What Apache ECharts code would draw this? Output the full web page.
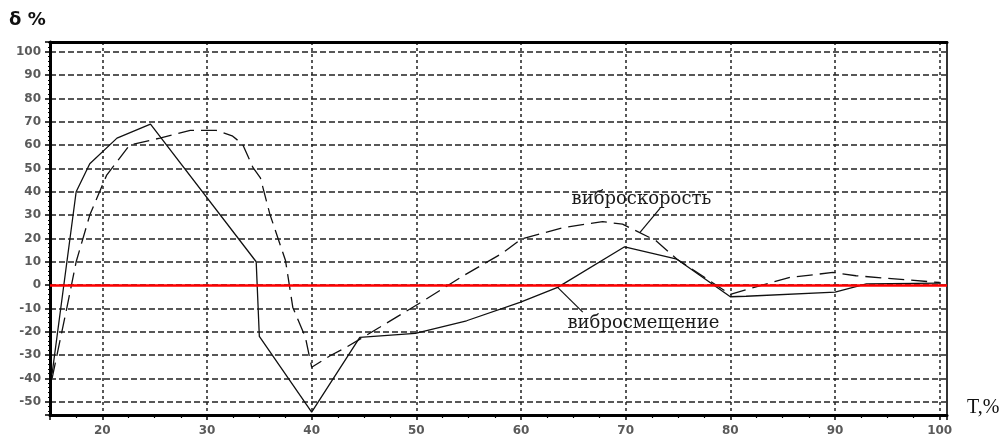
<!DOCTYPE html>
<html>
<head>
<meta charset="utf-8">
<script src="https://cdn.jsdelivr.net/npm/echarts@6/dist/echarts.min.js"></script>
<style>
  html, body { margin: 0; padding: 0; background: #fff; }
  #chart { width: 1003px; height: 441px; }
</style>
</head>
<body>
<div id="chart"></div>
<script>
// Relative deviation δ, % versus T, %
// вибросмещение (solid)
const dispX = [15.2, 17.5, 18.8, 21.4, 24.6, 34.7, 35.0, 40.0, 44.6, 49.9, 54.8, 59.9, 63.5, 69.9, 74.9, 80.0, 81.5, 90.0, 93.0, 100.0];
const dispY = [-38, 40, 52, 63, 69, 10, -22, -54.5, -22.4, -20.7, -15.3, -7.4, -1, 16.4, 11.1, -5, -4.8, -3, 0.5, 0.8];

// виброскорость (dashed)
const velX = [15.2, 16.6, 17.5, 18.8, 20.4, 22.6, 25.5, 28.4, 30.9, 32.4, 33.4, 34.4, 35.1, 36.0, 37.5, 38.2, 39.4, 40.0, 41.8, 43.3, 46.5, 50.7, 54.5, 58.3, 60.0, 64.0, 67.8, 69.7, 72.9, 74.9, 80.0, 82.8, 85.7, 89.8, 92.0, 100.0];
const velY = [-40, -10, 10, 30, 47, 60, 63, 66.3, 66.3, 64, 60.4, 50.3, 46, 30.5, 10.5, -9.6, -22.4, -35.2, -30.2, -26.7, -18.1, -6.7, 4, 13.9, 19.7, 24.6, 27.2, 26.1, 19, 11.1, -4, -0.3, 3.3, 5.4, 4, 1.1];

// Axis ranges
const xRange = [15, 100.7];
const yRange = [-55.7, 104.2];

// Curve captions and their leader lines (data coordinates)
const velCaption = { text: 'виброскорость', at: [71.5, 36.6], leader: [[73.3, 33.0], [71.35, 22.5]] };
const dispCaption = { text: 'вибросмещение', at: [71.7, -16.4], leader: [[63.5, -1.0], [65.9, -11.6]] };

const pairs = (xs, ys) => xs.map((x, i) => [x, ys[i]]);

const chart = echarts.init(document.getElementById('chart'), null, { renderer: 'canvas' });

const tickFont = { fontFamily: 'DejaVu Sans', fontWeight: 'bold', fontSize: 12, color: '#5a5a5a' };
const gridColor = '#222';

function caption(c) {
  return {
    coord: c.at,
    symbol: 'circle',
    symbolSize: 0,
    label: {
      show: true,
      position: 'inside',
      formatter: c.text,
      fontFamily: 'DejaVu Serif',
      fontSize: 18,
      color: '#1a1a1a'
    }
  };
}

function leader(c) {
  return [
    { coord: c.leader[0], lineStyle: { color: '#111', width: 1.2, type: 'solid' } },
    { coord: c.leader[1] }
  ];
}

chart.setOption({
  animation: false,
  backgroundColor: '#fff',
  grid: { left: 50, right: 56, top: 42, bottom: 26, containLabel: false },
  title: [
    { text: 'δ %', left: 4, top: 6, textStyle: { fontFamily: 'DejaVu Sans', fontWeight: 'bold', fontSize: 18, color: '#111' } },
    { text: 'T,%', left: 962, top: 393, textStyle: { fontFamily: 'Liberation Serif', fontWeight: 'normal', fontSize: 20, color: '#111' } }
  ],
  xAxis: [
    {
      type: 'value', min: xRange[0], max: xRange[1], splitNumber: 8,
      axisLine: { show: true, onZero: false, lineStyle: { color: '#000', width: 3 } },
      axisTick: { show: true, length: 5, lineStyle: { color: '#000', width: 1.5 } },
      minorTick: { show: true, splitNumber: 4, length: 3, lineStyle: { color: '#000', width: 1.2 } },
      axisLabel: Object.assign({ margin: 10, showMinLabel: false, showMaxLabel: false }, tickFont),
      splitLine: { show: true, lineStyle: { color: gridColor, width: 1.5, type: [3, 3] } }
    },
    {
      type: 'value', position: 'top', min: xRange[0], max: xRange[1],
      axisLine: { show: true, onZero: false, lineStyle: { color: '#000', width: 3 } },
      axisTick: { show: false }, axisLabel: { show: false }, splitLine: { show: false }
    }
  ],
  yAxis: [
    {
      type: 'value', min: yRange[0], max: yRange[1], splitNumber: 16,
      axisLine: { show: true, onZero: false, lineStyle: { color: '#000', width: 3 } },
      axisTick: { show: true, length: 5, lineStyle: { color: '#000', width: 1.5 } },
      minorTick: { show: true, splitNumber: 5, length: 2, lineStyle: { color: '#000', width: 1 } },
      axisLabel: Object.assign({ margin: 9, showMinLabel: false, showMaxLabel: false }, tickFont),
      splitLine: { show: true, lineStyle: { color: gridColor, width: 1.5, type: [6, 3] } }
    },
    {
      type: 'value', position: 'right', min: yRange[0], max: yRange[1],
      axisLine: { show: true, onZero: false, lineStyle: { color: '#333', width: 2 } },
      axisTick: { show: false }, axisLabel: { show: false }, splitLine: { show: false }
    }
  ],
  series: [
    {
      name: 'вибросмещение',
      type: 'line',
      data: pairs(dispX, dispY),
      showSymbol: false,
      symbol: 'none',
      lineStyle: { color: '#111', width: 1.3 },
      markLine: {
        silent: true,
        symbol: 'none',
        label: { show: false },
        data: [
          // zero reference line
          { yAxis: 0, lineStyle: { color: '#f00', width: 2.5, type: 'solid' } },
          leader(dispCaption),
          leader(velCaption)
        ]
      },
      markPoint: {
        silent: true,
        data: [caption(velCaption), caption(dispCaption)]
      }
    },
    {
      name: 'виброскорость',
      type: 'line',
      data: pairs(velX, velY),
      showSymbol: false,
      symbol: 'none',
      lineStyle: { color: '#111', width: 1.3, type: [16, 7] }
    }
  ]
});
</script>
</body>
</html>
